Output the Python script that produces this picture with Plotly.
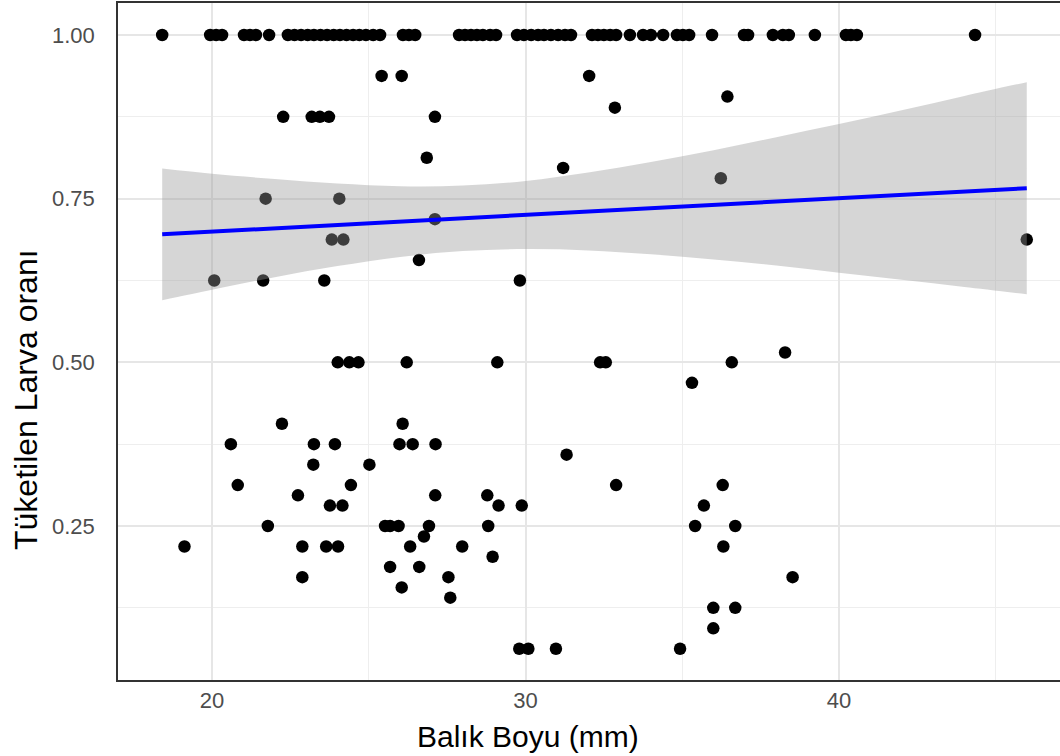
import plotly.graph_objects as go

# ---- data ----
# fish length (mm) for points at proportion 1.00
x_at_100 = [18.41, 19.94, 20.13, 20.32, 21.02, 21.21, 21.40, 21.82, 22.42, 22.63,
            22.84, 23.05, 23.25, 23.46, 23.67, 23.88, 24.08, 24.29, 24.50, 24.70,
            24.91, 25.14, 25.36, 26.09, 26.28, 26.48, 27.88, 28.07, 28.26, 28.45,
            28.64, 28.87, 29.06, 29.73, 29.95, 30.18, 30.40, 30.59, 30.81, 31.04,
            31.26, 31.45, 32.12, 32.31, 32.50, 32.70, 32.89, 33.33, 33.75, 34.00,
            34.39, 34.83, 35.02, 35.22, 35.95, 36.97, 37.10, 37.89, 38.21, 38.40,
            39.23, 40.22, 40.38, 40.57, 44.34]

# remaining points: (fish length, proportion)
x_other = [25.41, 26.05, 32.03, 36.44, 32.85,
           22.27, 23.18, 23.44, 23.73, 27.11,
           26.85, 31.20, 36.23, 21.71, 24.06, 27.11,
           23.82, 24.19, 45.99, 26.60,
           20.07, 21.63, 23.58, 29.82, 38.28,
           24.01, 24.38, 24.67, 26.21, 29.10, 32.38, 32.56, 36.58,
           35.31, 22.23, 26.08,
           20.60, 23.25, 23.92, 25.98, 26.40, 27.13,
           31.31, 23.23, 25.02,
           20.82, 24.43, 32.89, 36.29,
           22.74, 27.12, 28.78,
           23.76, 24.16, 29.14, 29.88, 35.69,
           21.78, 25.52, 25.68, 25.95, 26.92, 28.81, 35.41, 36.69,
           26.76,
           19.12, 22.88, 23.64, 24.02, 26.32, 27.98, 36.31,
           28.95, 25.68, 26.61,
           22.88, 27.54, 38.52,
           26.05, 27.60, 35.99, 36.69, 35.99,
           29.80, 30.09, 30.97, 34.93]
y_other = [0.9375, 0.9375, 0.9375, 0.906, 0.889,
           0.875, 0.875, 0.875, 0.875, 0.875,
           0.8125, 0.797, 0.78125, 0.75, 0.75, 0.71875,
           0.6875, 0.6875, 0.6875, 0.65625,
           0.625, 0.625, 0.625, 0.625, 0.515,
           0.5, 0.5, 0.5, 0.5, 0.5, 0.5, 0.5, 0.5,
           0.46875, 0.40625, 0.40625,
           0.375, 0.375, 0.375, 0.375, 0.375, 0.375,
           0.359, 0.34375, 0.34375,
           0.3125, 0.3125, 0.3125, 0.3125,
           0.296875, 0.296875, 0.296875,
           0.28125, 0.28125, 0.28125, 0.28125, 0.28125,
           0.25, 0.25, 0.25, 0.25, 0.25, 0.25, 0.25, 0.25,
           0.234,
           0.21875, 0.21875, 0.21875, 0.21875, 0.21875, 0.21875, 0.21875,
           0.203, 0.1875, 0.1875,
           0.171875, 0.171875, 0.171875,
           0.15625, 0.140625, 0.125, 0.125, 0.09375,
           0.0625, 0.0625, 0.0625, 0.0625]

balik_boyu = x_at_100 + x_other
larva_orani = [1.0] * len(x_at_100) + y_other

# linear smooth (geom_smooth lm)
fit_x = [18.41, 45.99]
fit_y = [0.6956, 0.7660]
band_x = [18.41, 20, 22, 24, 26, 28, 30, 32, 34, 36, 38, 40, 42, 44, 45.99]
band_lo = [0.595, 0.611, 0.630, 0.647, 0.661, 0.670, 0.673, 0.671, 0.665,
           0.657, 0.648, 0.637, 0.626, 0.615, 0.604]
band_hi = [0.796, 0.788, 0.780, 0.773, 0.769, 0.770, 0.777, 0.790, 0.806,
           0.824, 0.844, 0.864, 0.885, 0.907, 0.928]

x_ticks = [20, 30, 40]
x_minor = [25, 35, 45]
y_ticks = [0.25, 0.50, 0.75, 1.00]
y_ticktext = ["0.25", "0.50", "0.75", "1.00"]
y_minor = [0.125, 0.375, 0.625, 0.875]

x_title = "Balık Boyu (mm)"
y_title = "Tüketilen Larva oranı"

FONT = "Liberation Sans, Arial, sans-serif"

fig = go.Figure()
fig.add_trace(go.Scatter(x=balik_boyu, y=larva_orani, mode="markers",
                         marker=dict(color="black", size=12.5, line=dict(width=0)),
                         showlegend=False, hoverinfo="skip"))
fig.add_trace(go.Scatter(x=band_x, y=band_lo, mode="lines",
                         line=dict(width=0, shape="spline"),
                         showlegend=False, hoverinfo="skip"))
fig.add_trace(go.Scatter(x=band_x, y=band_hi, mode="lines",
                         line=dict(width=0, shape="spline"),
                         fill="tonexty", fillcolor="rgba(153,153,153,0.4)",
                         showlegend=False, hoverinfo="skip"))
fig.add_trace(go.Scatter(x=fit_x, y=fit_y, mode="lines",
                         line=dict(color="#0000ff", width=4),
                         showlegend=False, hoverinfo="skip"))

fig.update_layout(
    width=1060, height=756,
    margin=dict(l=118, r=0, t=3, b=76),
    paper_bgcolor="white", plot_bgcolor="white",
    font=dict(family=FONT),
    xaxis=dict(range=[17.0, 47.05], tickvals=x_ticks, ticks="",
               showgrid=True, gridcolor="#e6e6e6", gridwidth=1.6,
               minor=dict(tickvals=x_minor, showgrid=True, gridcolor="#eeeeee", gridwidth=1.1),
               showline=True, linecolor="#333333", linewidth=1.6, mirror=True,
               zeroline=False, tickfont=dict(size=22, color="#4d4d4d", family=FONT),
               ticklabelstandoff=0),
    yaxis=dict(range=[0.0148, 1.0489], tickvals=y_ticks, ticktext=y_ticktext, ticks="",
               showgrid=True, gridcolor="#e6e6e6", gridwidth=1.6,
               minor=dict(tickvals=y_minor, showgrid=True, gridcolor="#eeeeee", gridwidth=1.1),
               showline=True, linecolor="#333333", linewidth=1.6, mirror=False,
               zeroline=False, tickfont=dict(size=22, color="#4d4d4d", family=FONT),
               ticklabelstandoff=17),
    annotations=[
        dict(text=x_title, xref="paper", yref="paper", x=(528 - 118) / 942, y=(680 - 737) / 677,
             xanchor="center", yanchor="middle", showarrow=False,
             font=dict(size=30, color="black", family=FONT)),
        dict(text=y_title, xref="paper", yref="paper", x=(26 - 118) / 942, y=(680 - 400) / 677,
             xanchor="center", yanchor="middle", showarrow=False, textangle=-90,
             font=dict(size=32, color="black", family=FONT)),
    ],
)

fig.write_html("out.html")
